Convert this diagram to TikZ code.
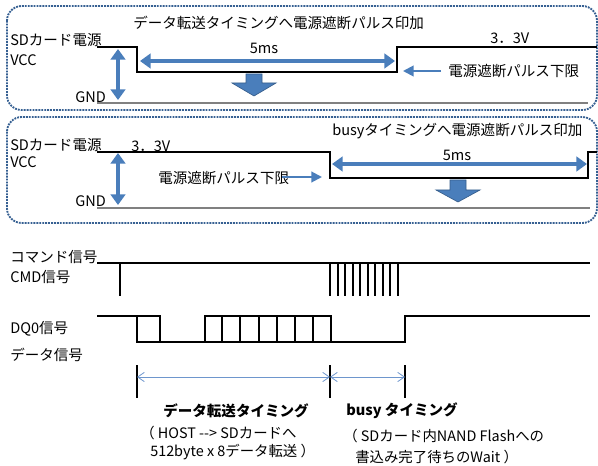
\documentclass[tikz,border=0pt]{standalone}
\usepackage{fontspec}
\setmainfont{Noto Sans CJK JP}
\usetikzlibrary{arrows.meta}
\definecolor{abl}{RGB}{74,126,187}
\definecolor{lbl}{RGB}{110,150,205}
\definecolor{dbl}{RGB}{54,96,146}
\definecolor{gline}{RGB}{128,128,128}
\tikzset{
  panel/.style={draw=dbl, line width=1.4pt, dash pattern=on 1.4pt off 0.8pt, rounded corners=11pt},
  wave/.style={draw=black, line width=1.5pt},
  gndline/.style={draw=gline, line width=1.6pt},
  bigarr/.style={draw=abl, line width=3pt, {Triangle[length=8pt,width=11pt]}-{Triangle[length=8pt,width=11pt]}},
  thinarr/.style={draw=abl, line width=1.5pt, -{Triangle[length=8pt,width=8pt]}},
  timarr/.style={draw=lbl, line width=0.6pt, {Straight Barb[length=5pt,width=7pt]}-{Straight Barb[length=5pt,width=7pt]}},
  blockarr/.style={fill=abl, draw=abl!75!black, line width=0.5pt},
  lbl/.style={inner sep=0pt, anchor=west, font=\fontsize{10.9}{12}\selectfont},
  clbl/.style={inner sep=0pt, font=\fontsize{10.9}{12}\selectfont},
  blbl/.style={inner sep=0pt, font=\fontsize{10.9}{12}\selectfont\bfseries},
  slbl/.style={inner sep=0pt, anchor=west, font=\fontsize{10.8}{12}\selectfont},
}
\begin{document}
\begin{tikzpicture}[x=0.75pt,y=-0.75pt]
\useasboundingbox (0,0) rectangle (598,466);

% panels
\draw[panel] (7,6) rectangle (597,110);
\draw[panel] (7,117) rectangle (597,223);

% ---------- panel 1 ----------
\node[lbl] (t1) at (133,23) {データ転送タイミングへ電源遮断パルス印加};
\node[lbl] (sd1) at (10,40) {SDカード電源};
\node[lbl] (vcc1) at (10,60) {VCC};
\node[lbl] (gnd1) at (75,97) {GND};
\node[clbl] (ms1) at (264,48) {5ms};
\node[lbl] (v1) at (490,38) {3．3V};
\node[lbl] (lim1) at (448,71) {電源遮断パルス下限};

\draw[wave] (97,47) -- (137,47) -- (137,72) -- (397,72) -- (397,47) -- (597,47);
\draw[gndline] (97,103) -- (588,103);

\coordinate (a1t) at (118,49);
\coordinate (a1b) at (118,100);
\draw[bigarr] (a1t) -- (a1b);
\coordinate (h1l) at (140,61);
\coordinate (h1r) at (395,61);
\draw[bigarr] (h1l) -- (h1r);
\coordinate (l1s) at (441,71);
\coordinate (l1e) at (403,71);
\draw[thinarr] (l1s) -- (l1e);
\draw[blockarr] (246,74) -- (262,74) -- (262,83) -- (276,83) -- (254,96) -- (232,83) -- (246,83) -- cycle;

% ---------- panel 2 ----------
\node[lbl] (t2) at (332,131) {busyタイミングへ電源遮断パルス印加};
\node[lbl] (sd2) at (10,145) {SDカード電源};
\node[lbl] (v2) at (131,146) {3．3V};
\node[lbl] (vcc2) at (10,162) {VCC};
\node[lbl] (gnd2) at (75,201) {GND};
\node[clbl] (ms2) at (457,155) {5ms};
\node[lbl] (lim2) at (158,178) {電源遮断パルス下限};

\draw[wave] (97,152) -- (330,152) -- (330,178) -- (588,178) -- (588,152) -- (597,152);
\draw[gndline] (97,208) -- (590,208);

\coordinate (a2t) at (118,153);
\coordinate (a2b) at (118,205);
\draw[bigarr] (a2t) -- (a2b);
\coordinate (h2l) at (332,164);
\coordinate (h2r) at (587,164);
\draw[bigarr] (h2l) -- (h2r);
\coordinate (l2s) at (282,177);
\coordinate (l2e) at (322,177);
\draw[thinarr] (l2s) -- (l2e);
\draw[blockarr] (450,180) -- (466,180) -- (466,190) -- (480,190) -- (458,202) -- (436,190) -- (450,190) -- cycle;

% ---------- signals ----------
\node[lbl] (cmdj) at (10,257) {コマンド信号};
\node[lbl] (cmde) at (10,277) {CMD信号};
\node[lbl] (dq0) at (10,329) {DQ0信号};
\node[lbl] (datj) at (10,355) {データ信号};

\draw[wave] (97,263) -- (590,263);
\draw[wave] (120,263) -- (120,296);
\foreach \i in {0,...,9} {
  \draw[wave] ({330+7.5*\i},263) -- ({330+7.5*\i},296);
}

\draw[wave] (97,316) -- (137,316) -- (137,342) -- (405,342) -- (405,316) -- (590,316);
\draw[wave] (137,316) -- (160,316) -- (160,342);
\draw[wave] (205,342) -- (205,316) -- (331,316) -- (331,342);
\foreach \x in {222,240,259,277,295,313} {
  \draw[wave] (\x,316) -- (\x,342);
}

% ---------- timing markers ----------
\foreach \x/\n in {137/m1,330/m2,405/m3} {
  \coordinate (\n t) at (\x,365);
  \coordinate (\n b) at (\x,398);
  \draw[wave] (\n t) -- (\n b);
}
\coordinate (ta) at (137,377);
\coordinate (tb) at (330,377);
\coordinate (tc) at (405,377);
\draw[timarr] (ta) -- (tb);
\draw[timarr] (tb) -- (tc);

\node[blbl] (dtt) at (236,411) {データ転送タイミング};
\node[blbl] (bt) at (402,411) {busy タイミング};
\node[slbl] (n1a) at (140,433) {（\ HOST -\kern0pt-\kern0pt> SDカードへ};
\node[slbl] (n1b) at (150,452) {512byte x 8データ転送 ）};
\node[slbl] (n2a) at (343,436) {（ SDカード内NAND Flashへの};
\node[slbl] (n2b) at (355,457) {書込み完了待ちのWait ）};
\end{tikzpicture}
\end{document}
